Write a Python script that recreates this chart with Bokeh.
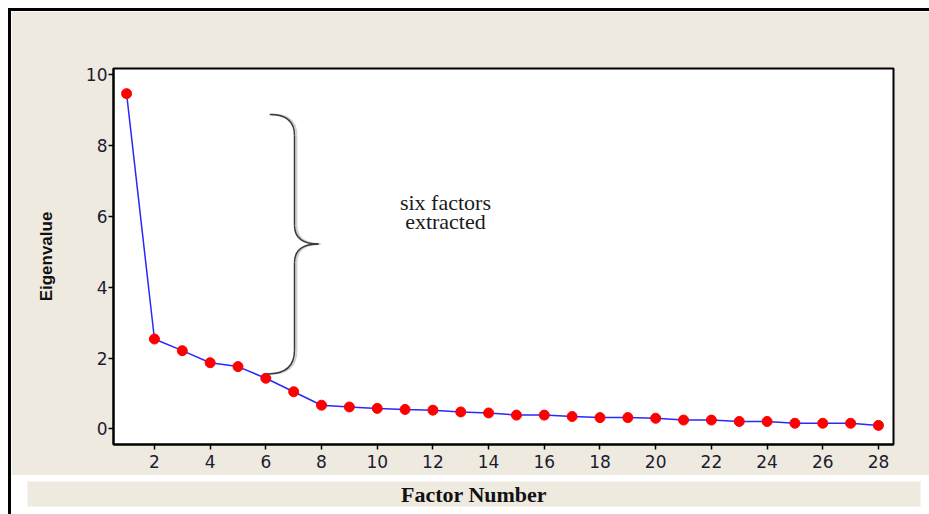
from bokeh.plotting import figure
from bokeh.models import FixedTicker, Range1d, ColumnDataSource
from bokeh.layouts import column, row
from bokeh.core.properties import value
from bokeh.embed import file_html
from bokeh.resources import INLINE

# ---- data ----
factors = list(range(1, 29))
eigenvalues = [9.47, 2.54, 2.21, 1.87, 1.76, 1.43, 1.05, 0.67, 0.62, 0.58,
               0.55, 0.53, 0.48, 0.45, 0.39, 0.39, 0.35, 0.32, 0.32, 0.30,
               0.25, 0.25, 0.21, 0.21, 0.16, 0.16, 0.16, 0.10]
x_ticks = list(range(2, 29, 2))
y_ticks = [0, 2, 4, 6, 8, 10]
x_label = "Factor Number"
y_label = "Eigenvalue"
note_lines = ["six factors", "extracted"]

# annotation (brace) geometry in data units
brace_spine_x = 7.03
brace_tip_x_top = 6.14
brace_tip_x_bottom = 6.06
brace_mid_x = 7.89
brace_top_y = 8.88
brace_top_join_y = 8.29
brace_upper_join_y = 5.75
brace_mid_y = 5.22
brace_lower_join_y = 4.70
brace_bottom_join_y = 2.22
brace_bottom_y = 1.55
note_x = 12.45
note_y = [6.40, 5.86]

BEIGE = "#EEEAE0"
W = 918

src = ColumnDataSource(dict(x=factors, y=eigenvalues))

p = figure(width=W, height=464, output_backend="svg", toolbar_location=None,
           x_range=Range1d(0.53, 28.54), y_range=Range1d(-0.44, 10.18),
           min_border_left=102, min_border_right=36, min_border_top=57,
           min_border_bottom=31)
p.border_fill_color = BEIGE
p.background_fill_color = "white"
p.outline_line_color = "black"
p.outline_line_width = 2
p.grid.visible = False

for ax in (p.xaxis[0], p.yaxis[0]):
    ax.axis_line_color = "black"
    ax.axis_line_width = 2
    ax.major_tick_in = 0
    ax.major_tick_out = 5
    ax.major_tick_line_color = "black"
    ax.major_tick_line_width = 1.5
    ax.minor_tick_line_color = None
    ax.major_label_text_font = "DejaVu Sans"
    ax.major_label_text_font_size = "17px"
    ax.major_label_text_color = "#1c1c30"

p.xaxis.ticker = FixedTicker(ticks=x_ticks)
p.yaxis.ticker = FixedTicker(ticks=y_ticks)
p.xaxis.major_label_standoff = 5
p.yaxis.major_label_standoff = 1
p.yaxis.axis_label = y_label
p.yaxis.axis_label_text_font = "Liberation Sans"
p.yaxis.axis_label_text_font_style = "bold"
p.yaxis.axis_label_text_font_size = "17px"
p.yaxis.axis_label_text_color = "#111111"
p.yaxis.axis_label_standoff = 27

p.line("x", "y", source=src, line_color="#2828FF", line_width=1.5)
p.scatter("x", "y", source=src, marker="circle", size=10,
          fill_color="#FF0000", line_color="#FF0000")

# brace (a faint grey shadow, then the dark stroke)
for shift, bc, lw in ((0.07, "#cfcfcf", 2.0), (0.0, "#3a3a3a", 1.5)):
    sx = brace_spine_x + shift
    p.quadratic(x0=[brace_tip_x_top + shift], y0=[brace_top_y], x1=[sx], y1=[brace_top_join_y],
                cx=[sx], cy=[brace_top_y], line_color=bc, line_width=lw)
    p.segment(x0=[sx], y0=[brace_top_join_y], x1=[sx], y1=[brace_upper_join_y],
              line_color=bc, line_width=lw)
    p.quadratic(x0=[sx], y0=[brace_upper_join_y], x1=[brace_mid_x + shift], y1=[brace_mid_y],
                cx=[sx], cy=[brace_mid_y], line_color=bc, line_width=lw)
    p.quadratic(x0=[brace_mid_x + shift], y0=[brace_mid_y], x1=[sx], y1=[brace_lower_join_y],
                cx=[sx], cy=[brace_mid_y], line_color=bc, line_width=lw)
    p.segment(x0=[sx], y0=[brace_lower_join_y], x1=[sx], y1=[brace_bottom_join_y],
              line_color=bc, line_width=lw)
    p.quadratic(x0=[sx], y0=[brace_bottom_join_y], x1=[brace_tip_x_bottom + shift], y1=[brace_bottom_y],
                cx=[sx], cy=[brace_bottom_y], line_color=bc, line_width=lw)

p.text(x=[note_x, note_x], y=note_y, text=note_lines, text_align="center",
       text_baseline="middle", text_font=value("Liberation Serif"),
       text_font_size="22px", text_color="#1a1a1a")

# x-axis title band (separate small figure)
b = figure(width=W, height=39, output_backend="svg", toolbar_location=None,
           x_range=Range1d(0, 1), y_range=Range1d(0, 1),
           min_border_left=16, min_border_right=9, min_border_top=6, min_border_bottom=8)
b.axis.visible = False
b.grid.visible = False
b.outline_line_color = None
b.background_fill_color = BEIGE
b.border_fill_color = "white"
b.text(x=[0.5], y=[0.5], text=[x_label], text_align="center", text_baseline="middle",
       text_font=value("Liberation Serif"), text_font_style="bold",
       text_font_size="22px", text_color="#111111")

layout = column(p, row(b), styles={"margin-left": "8px", "margin-top": "8px",
                                   "border-left": "3px solid black",
                                   "border-top": "3px solid black"})

open("out.html", "w").write(file_html(layout, INLINE))
